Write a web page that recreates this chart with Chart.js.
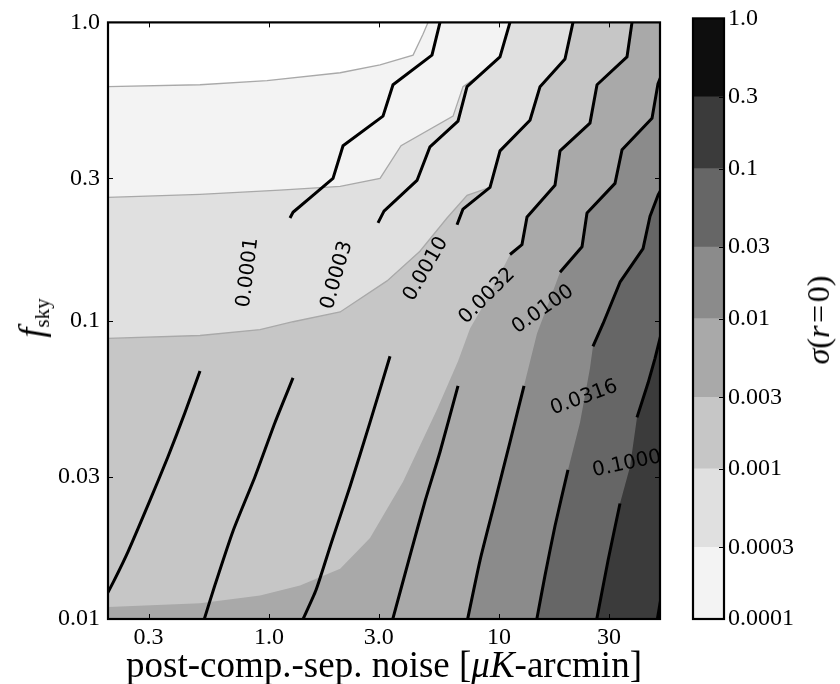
<!DOCTYPE html>
<html>
<head>
<meta charset="utf-8">
<title>sigma(r=0) vs noise and sky fraction</title>
<script src="https://cdn.jsdelivr.net/npm/chart.js@4.4.1/dist/chart.umd.min.js"></script>
<style>
  html, body { margin: 0; padding: 0; background: #fff; }
  #wrap { position: relative; width: 840px; height: 684px; overflow: hidden;
          font-family: "Liberation Serif", "DejaVu Serif", serif; color: #000; }
  #wrap canvas { position: absolute; left: 0; top: 0; }
  .lbl { position: absolute; white-space: nowrap; line-height: 1; }
  #xlabel { left: 384px; top: 646px; font-size: 37px; transform: translateX(-50%); }
  #ylabel { left: 33px; top: 318px; font-size: 36px; transform: translate(-50%, -50%) rotate(-90deg); }
  #ylabel sub { font-size: 21px; font-style: normal; vertical-align: -6px; }
  #cblabel { left: 818px; top: 320px; font-size: 32px; transform: translate(-50%, -50%) rotate(-90deg); }
</style>
</head>
<body>
<div id="wrap">
  <canvas id="main" width="840" height="684"></canvas>
  <canvas id="cbar" width="840" height="684"></canvas>
  <div id="xlabel" class="lbl">post-comp.-sep. noise [<i>μK</i>-arcmin]</div>
  <div id="ylabel" class="lbl"><i>f</i><sub>sky</sub></div>
  <div id="cblabel" class="lbl"><i>σ</i>(<i>r</i>&#8202;=&#8202;0)</div>
</div>
<script>
// ---- axes ----
const X_MIN = 0.2, X_MAX = 50;
const Y_MIN = 0.01, Y_MAX = 1.0;
const X_TICKS = [0.3, 1, 3, 10, 30];
const X_TICK_LABELS = ['0.3', '1.0', '3.0', '10', '30'];
const Y_TICKS = [0.01, 0.03, 0.1, 0.3, 1];
const Y_TICK_LABELS = ['0.01', '0.03', '0.1', '0.3', '1.0'];

// ---- sigma(r=0) filled levels (colour bar) ----
const SIGMA_LEVELS = [0.0001, 0.0003, 0.001, 0.003, 0.01, 0.03, 0.1, 0.3, 1.0];
const SIGMA_LEVEL_LABELS = ['0.0001', '0.0003', '0.001', '0.003', '0.01', '0.03', '0.1', '0.3', '1.0'];

// level boundaries as [noise, f_sky]; sigma is below the level above/left of each curve
const EDGE_1E4 = [[0.2, 0.609], [0.502, 0.618], [0.981, 0.638], [2.04, 0.678], [3.04, 0.721],
  [4.23, 0.777], [4.67, 0.912], [4.91, 1.0]];
const EDGE_3E4 = [[0.2, 0.259], [0.502, 0.265], [1.117, 0.274], [2.04, 0.282], [3.04, 0.300],
  [3.75, 0.386], [6.31, 0.485], [6.97, 0.609], [8.26, 0.668], [10.09, 0.766], [11.15, 1.0]];
const EDGE_1E3 = [[0.2, 0.0872], [0.502, 0.0892], [0.915, 0.0934], [1.273, 0.0992], [2.04, 0.107],
  [3.26, 0.136], [4.53, 0.171], [5.94, 0.221], [7.26, 0.263], [9.13, 0.280], [10.09, 0.371],
  [13.62, 0.470], [15.06, 0.609], [19.33, 0.754], [20.94, 1.0]];
const EDGE_3E3 = [[0.2, 0.01096], [0.502, 0.0113], [0.915, 0.0120], [1.365, 0.01296], [2.04, 0.01475],
  [2.749, 0.01869], [3.824, 0.02886], [5.373, 0.0504], [6.63, 0.0731], [7.476, 0.0941], [9.131, 0.1229],
  [11.15, 0.1667], [12.57, 0.1799], [13.22, 0.2227], [17.49, 0.2843], [18.39, 0.371], [24.82, 0.4595],
  [26.63, 0.618], [35.94, 0.766], [37.79, 1.0]];
const EDGE_1E2 = [[7.33, 0.01], [8.26, 0.01569], [9.60, 0.02477], [11.15, 0.0392], [12.83, 0.0605],
  [14.61, 0.0906], [16.97, 0.1229], [18.39, 0.1453], [22.92, 0.1771], [24.09, 0.2296], [31.88, 0.2886],
  [34.20, 0.374], [46.16, 0.4772], [49.0, 0.623], [50.5, 0.66]];
const EDGE_3E2 = [[14.61, 0.01], [15.83, 0.01398], [17.49, 0.0205], [19.92, 0.0316], [22.47, 0.0456],
  [24.82, 0.0693], [25.57, 0.082], [28.28, 0.0977], [33.51, 0.1346], [42.19, 0.1744], [45.25, 0.224],
  [49.02, 0.2633], [50.5, 0.275]];
const EDGE_1E1 = [[26.63, 0.01], [29.73, 0.01569], [33.51, 0.0244], [37.05, 0.0324], [39.72, 0.0474],
  [44.36, 0.0618], [47.57, 0.0748], [50.5, 0.09]];

// ---- labelled contour lines, upper and lower pieces (broken where the label sits) ----
const LINE_0001_TOP = [[1.235, 0.221], [1.273, 0.231], [1.554, 0.263], [1.899, 0.300], [2.099, 0.386],
  [3.131, 0.485], [3.46, 0.618], [5.11, 0.777], [5.537, 1.0]];
const LINE_0001_BOTTOM = [[0.502, 0.0678], [0.432, 0.0492], [0.364, 0.0349], [0.303, 0.0248],
  [0.245, 0.0169], [0.213, 0.0135], [0.189, 0.0113]];
const LINE_0003_TOP = [[2.978, 0.2128], [3.162, 0.2331], [4.399, 0.2953], [5.009, 0.3827], [6.63, 0.4665],
  [7.255, 0.609], [10.09, 0.766], [11.15, 1.0]];
const LINE_0003_BOTTOM = [[1.273, 0.0643], [1.063, 0.0456], [0.870, 0.030], [0.698, 0.0197],
  [0.583, 0.0130], [0.522, 0.0099]];
const LINE_0010_TOP = [[6.564, 0.2096], [6.97, 0.2367], [9.131, 0.280], [10.09, 0.371], [13.62, 0.470],
  [15.06, 0.609], [19.33, 0.754], [20.94, 1.0]];
const LINE_0010_BOTTOM = [[3.358, 0.076], [2.749, 0.0456], [2.251, 0.0278], [1.88, 0.0183],
  [1.602, 0.0125], [1.40, 0.0099]];
const LINE_0032_TOP = [[11.15, 0.1667], [12.57, 0.1799], [13.22, 0.2227], [17.49, 0.2843], [18.39, 0.371],
  [24.82, 0.4595], [26.63, 0.618], [35.94, 0.766], [37.79, 1.0]];
const LINE_0032_BOTTOM = [[6.63, 0.0605], [5.537, 0.0363], [4.765, 0.0248], [4.102, 0.0163], [3.44, 0.0099]];
const LINE_0100_TOP = [[18.39, 0.1453], [22.92, 0.1771], [24.09, 0.2296], [31.88, 0.2886], [34.20, 0.374],
  [46.16, 0.4772], [49.0, 0.623], [50.5, 0.66]];
const LINE_0100_BOTTOM = [[12.83, 0.0605], [11.15, 0.0392], [9.60, 0.0248], [8.26, 0.0157], [7.28, 0.0099]];
const LINE_0316_TOP = [[25.57, 0.082], [28.28, 0.0977], [33.51, 0.1346], [42.19, 0.1744], [45.25, 0.224],
  [49.02, 0.2633], [50.5, 0.275]];
const LINE_0316_BOTTOM = [[19.92, 0.0316], [17.49, 0.0205], [15.83, 0.0140], [14.55, 0.0099]];
const LINE_1000_TOP = [[39.72, 0.0474], [44.36, 0.0618], [47.57, 0.0748], [50.5, 0.09]];
const LINE_1000_BOTTOM = [[33.51, 0.0244], [29.73, 0.0157], [26.5, 0.0099]];
const LINE_3162 = [[50.6, 0.0119], [48.5, 0.0098]];

const CLABEL_TEXT = ['0.0001', '0.0003', '0.0010', '0.0032', '0.0100', '0.0316', '0.1000'];
const CLABEL_AT = [[0.811, 0.145], [1.976, 0.142], [4.81, 0.149], [8.86, 0.121], [15.5, 0.109],
  [23.4, 0.0552], [35.9, 0.0331]];

// ---- styling ----
const BAND_COLORS = ['#f3f3f3', '#e0e0e0', '#c6c6c6', '#a9a9a9', '#8b8b8b', '#666666', '#3b3b3b', '#0e0e0e'];
const CLABEL_ANGLE = [-83, -74, -60, -45, -35, -20, -12];
const SERIF = '"Liberation Serif", "DejaVu Serif", serif';

const toXY = pts => pts.map(p => ({ x: p[0], y: p[1] }));

// filled regions: each edge fills up to the top of the plot; the highest level is
// painted first (largest order) and each lower level is laid over it
const EDGES = [EDGE_1E4, EDGE_3E4, EDGE_1E3, EDGE_3E3, EDGE_1E2, EDGE_3E2, EDGE_1E1];
const datasets = [];
EDGES.forEach((edge, i) => {
  let pts = edge;
  if (edge[0][1] <= Y_MIN) pts = [[X_MIN, Y_MIN]].concat(edge); // curve starts on the bottom axis
  const seam = i <= 2;
  datasets.push({
    data: toXY(pts),
    fill: 'end',
    backgroundColor: i === 0 ? '#ffffff' : BAND_COLORS[i - 1],
    borderColor: seam ? '#a9a9a9' : 'rgba(0,0,0,0)',
    borderWidth: seam ? 1.3 : 0,
    pointRadius: 0,
    tension: 0,
    order: 40 + i
  });
});

// black contour pieces: the zig-zag upper parts stay straight-segmented,
// the lower parts are gently smoothed
const TOP_PIECES = [LINE_0001_TOP, LINE_0003_TOP, LINE_0010_TOP, LINE_0032_TOP, LINE_0100_TOP,
  LINE_0316_TOP, LINE_1000_TOP, LINE_3162];
const BOTTOM_PIECES = [LINE_0001_BOTTOM, LINE_0003_BOTTOM, LINE_0010_BOTTOM, LINE_0032_BOTTOM,
  LINE_0100_BOTTOM, LINE_0316_BOTTOM, LINE_1000_BOTTOM];
function contourPiece(line, smooth) {
  return {
    data: toXY(line),
    fill: false,
    borderColor: '#000',
    borderWidth: 3,
    borderJoinStyle: 'round',
    pointRadius: 0,
    tension: smooth ? 0.2 : 0,
    order: 1
  };
}
TOP_PIECES.forEach(l => datasets.push(contourPiece(l, false)));
BOTTOM_PIECES.forEach(l => datasets.push(contourPiece(l, true)));

// plot-area background = darkest visible band
const areaFill = {
  id: 'areaFill',
  beforeDatasetsDraw(chart) {
    const a = chart.chartArea, ctx = chart.ctx;
    ctx.save();
    ctx.fillStyle = BAND_COLORS[6];
    ctx.fillRect(a.left, a.top, a.right - a.left, a.bottom - a.top);
    ctx.restore();
  }
};

// inline contour labels
const contourLabels = {
  id: 'contourLabels',
  afterDatasetsDraw(chart) {
    const a = chart.chartArea, ctx = chart.ctx, sx = chart.scales.x, sy = chart.scales.y;
    ctx.save();
    ctx.beginPath();
    ctx.rect(a.left, a.top, a.right - a.left, a.bottom - a.top);
    ctx.clip();
    ctx.fillStyle = '#000';
    ctx.font = '20px "DejaVu Sans", sans-serif';
    ctx.textAlign = 'center';
    ctx.textBaseline = 'middle';
    CLABEL_TEXT.forEach((t, i) => {
      const px = sx.getPixelForValue(CLABEL_AT[i][0]);
      const py = sy.getPixelForValue(CLABEL_AT[i][1]);
      ctx.save();
      ctx.translate(px, py);
      ctx.rotate(CLABEL_ANGLE[i] * Math.PI / 180);
      ctx.fillText(t, 0, 0);
      ctx.restore();
    });
    ctx.restore();
  }
};

// frame with inward ticks on all four sides
const frame = {
  id: 'frame',
  afterDraw(chart) {
    const a = chart.chartArea, ctx = chart.ctx, sx = chart.scales.x, sy = chart.scales.y;
    ctx.save();
    ctx.strokeStyle = '#000';
    ctx.lineWidth = 1;
    ctx.beginPath();
    X_TICKS.forEach(v => {
      const p = Math.round(sx.getPixelForValue(v)) + 0.5;
      ctx.moveTo(p, a.bottom); ctx.lineTo(p, a.bottom - 5);
      ctx.moveTo(p, a.top); ctx.lineTo(p, a.top + 5);
    });
    Y_TICKS.forEach(v => {
      const p = Math.round(sy.getPixelForValue(v)) + 0.5;
      ctx.moveTo(a.left, p); ctx.lineTo(a.left + 5, p);
      ctx.moveTo(a.right, p); ctx.lineTo(a.right - 5, p);
    });
    ctx.stroke();
    ctx.lineWidth = 2.2;
    ctx.strokeRect(a.left, a.top, a.right - a.left, a.bottom - a.top);
    ctx.restore();
  }
};

new Chart(document.getElementById('main'), {
  type: 'line',
  data: { datasets: datasets },
  options: {
    responsive: false,
    animation: false,
    layout: { padding: { left: 0, right: 180, top: 15, bottom: 0 } },
    plugins: { legend: { display: false }, tooltip: { enabled: false } },
    scales: {
      x: {
        type: 'logarithmic', min: X_MIN, max: X_MAX,
        afterBuildTicks: s => { s.ticks = X_TICKS.map(v => ({ value: v })); },
        afterFit: s => { s.height = 65; },
        ticks: { autoSkip: false, maxRotation: 0, padding: 4, color: '#000',
                 font: { family: SERIF, size: 24 },
                 callback: (v, i) => X_TICK_LABELS[i] },
        grid: { display: false, drawTicks: false },
        border: { display: false }
      },
      y: {
        type: 'logarithmic', min: Y_MIN, max: Y_MAX,
        afterBuildTicks: s => { s.ticks = Y_TICKS.map(v => ({ value: v })); },
        afterFit: s => { s.width = 108; },
        ticks: { autoSkip: false, padding: 8, color: '#000',
                 font: { family: SERIF, size: 24 },
                 callback: (v, i) => Y_TICK_LABELS[i] },
        grid: { display: false, drawTicks: false },
        border: { display: false }
      }
    }
  },
  plugins: [areaFill, contourLabels, frame]
});

// ---- colour bar ----
const cbarFrame = {
  id: 'cbarFrame',
  afterDraw(chart) {
    const a = chart.chartArea, ctx = chart.ctx, sy = chart.scales.y;
    ctx.save();
    ctx.strokeStyle = '#000';
    ctx.lineWidth = 1;
    ctx.beginPath();
    SIGMA_LEVELS.forEach(v => {
      const p = Math.round(sy.getPixelForValue(v)) + 0.5;
      ctx.moveTo(a.right, p); ctx.lineTo(a.right - 5, p);
    });
    ctx.stroke();
    ctx.lineWidth = 2.2;
    ctx.strokeRect(a.left, a.top, a.right - a.left, a.bottom - a.top);
    ctx.restore();
  }
};

new Chart(document.getElementById('cbar'), {
  type: 'bar',
  data: {
    labels: [''],
    datasets: BAND_COLORS.map((c, i) => ({
      data: [[SIGMA_LEVELS[i], SIGMA_LEVELS[i + 1]]],
      backgroundColor: c,
      borderWidth: 0,
      grouped: false,
      barPercentage: 1,
      categoryPercentage: 1
    }))
  },
  options: {
    responsive: false,
    animation: false,
    layout: { padding: { left: 693, right: 0, top: 15, bottom: 65 } },
    plugins: { legend: { display: false }, tooltip: { enabled: false } },
    scales: {
      x: { display: false },
      y: {
        type: 'logarithmic', position: 'right', min: SIGMA_LEVELS[0], max: SIGMA_LEVELS[SIGMA_LEVELS.length - 1],
        afterBuildTicks: s => { s.ticks = SIGMA_LEVELS.map(v => ({ value: v })); },
        afterFit: s => { s.width = 116; },
        ticks: { autoSkip: false, padding: 4, color: '#000',
                 font: { family: SERIF, size: 24 },
                 callback: (v, i) => SIGMA_LEVEL_LABELS[i] },
        grid: { display: false, drawTicks: false },
        border: { display: false }
      }
    }
  },
  plugins: [cbarFrame]
});
</script>
</body>
</html>
